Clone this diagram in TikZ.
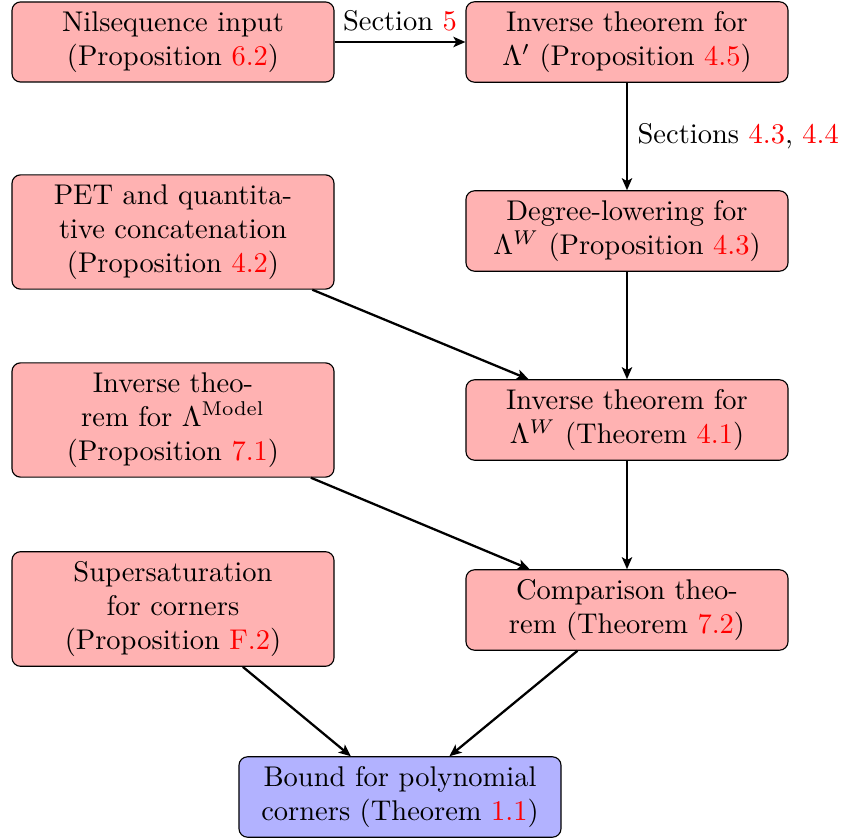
\documentclass[tikz,border=0pt]{standalone}
\usetikzlibrary{arrows.meta}
\begin{document}
\begin{tikzpicture}[x=0.3509pt,y=-0.3509pt,
  box/.style={draw,rounded corners=3pt,fill=red!30,align=center,minimum width=113pt,inner sep=3.33pt},
  goal/.style={box,fill=blue!30},
  arr/.style={-{Stealth[length=4.2pt,width=3.6pt,inset=1pt]},thick}]
\useasboundingbox (0,0) rectangle (844,838);
\node[box] (nil) at (173,42) {Nilsequence input\\(Proposition \textcolor{red}{6.2})};
\node[box] (invp) at (627,42) {Inverse theorem for\\$\Lambda'$ (Proposition \textcolor{red}{4.5})};
\node[box] (pet) at (173,232) {PET and quantita-\\tive concatenation\\(Proposition \textcolor{red}{4.2})};
\node[box] (deg) at (627,231) {Degree-lowering for\\$\Lambda^W$ (Proposition \textcolor{red}{4.3})};
\node[box] (model) at (173,420) {Inverse theo-\\rem for $\Lambda^{\mathrm{Model}}$\\(Proposition \textcolor{red}{7.1})};
\node[box] (invw) at (627,420) {Inverse theorem for\\$\Lambda^W$ (Theorem \textcolor{red}{4.1})};
\node[box] (sup) at (173,609) {Supersaturation\\for corners\\(Proposition \textcolor{red}{F.2})};
\node[box] (comp) at (627,610) {Comparison theo-\\rem (Theorem \textcolor{red}{7.2})};
\node[goal] (bound) at (400,797) {Bound for polynomial\\corners (Theorem \textcolor{red}{1.1})};
\draw[arr] (nil) -- node[above] {Section \textcolor{red}{5}} (invp);
\draw[arr] (invp) -- node[right] {Sections \textcolor{red}{4.3}, \textcolor{red}{4.4}} (deg);
\draw[arr] (deg) -- (invw);
\draw[arr] (pet) -- (invw);
\draw[arr] (invw) -- (comp);
\draw[arr] (model) -- (comp);
\draw[arr] (sup) -- (bound);
\draw[arr] (comp) -- (bound);
\end{tikzpicture}
\end{document}
